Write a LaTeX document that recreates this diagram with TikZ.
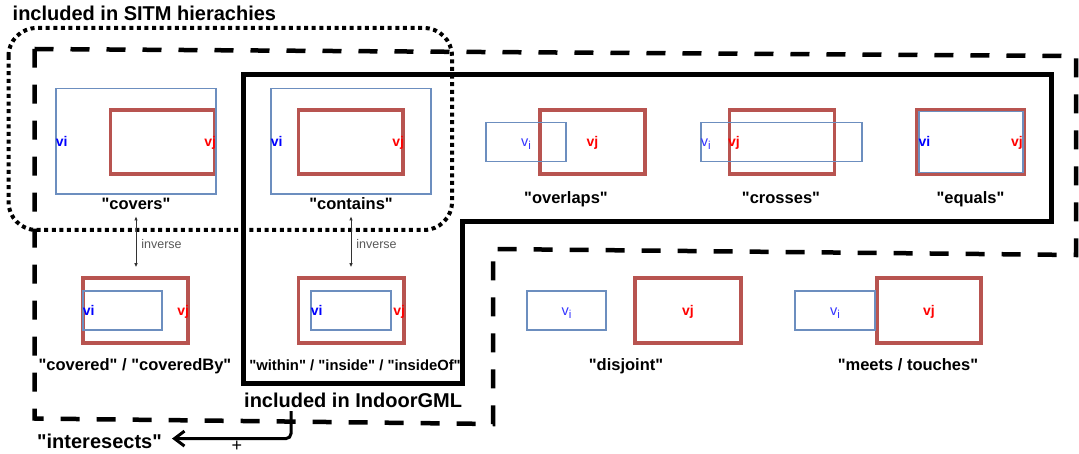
\documentclass[tikz,border=0pt]{standalone}
\usepackage{fontspec}
\setmainfont{Liberation Sans}
\usetikzlibrary{arrows.meta}
\definecolor{boxred}{HTML}{B85450}
\definecolor{boxblue}{HTML}{6C8EBF}
\definecolor{lblblue}{HTML}{0000FF}
\definecolor{subblue}{HTML}{3535FF}
\definecolor{lblred}{HTML}{FF0000}
\definecolor{invgray}{HTML}{595959}
\definecolor{arrgray}{HTML}{333333}
\newcommand{\vsub}{v\raisebox{-3pt}{\fontsize{11.5}{11.5}\selectfont i}}
\newcommand{\qt}[1]{\textquotedbl#1\textquotedbl}
\tikzset{
  redbox/.style={draw=boxred, line width=3.5pt, inner sep=0pt},
  bluebox/.style={draw=boxblue, line width=1.5pt, inner sep=0pt},
  vilbl/.style={text=lblblue, font=\fontsize{14}{14}\selectfont\bfseries, inner sep=0.5pt, text height=12pt, text depth=2pt},
  visub/.style={text=subblue, font=\fontsize{14.5}{14}\selectfont, inner sep=0.5pt, text height=12pt, text depth=2pt},
  vjlbl/.style={text=lblred, font=\fontsize{14}{14}\selectfont\bfseries, inner sep=0.5pt, text height=12pt, text depth=2pt},
  rellbl/.style={font=\fontsize{16.5}{18}\selectfont\bfseries, anchor=base, inner sep=2pt},
  grouplbl/.style={font=\fontsize{20}{22}\selectfont\bfseries, anchor=base west, inner sep=0pt},
  invlbl/.style={right, text=invgray, font=\fontsize{12.5}{14}\selectfont, inner sep=5pt},
  invarrow/.style={draw=arrgray, line width=0.8pt, shorten <=4pt, shorten >=9pt,
    {Latex[length=4pt,width=3.5pt]}-{Latex[length=4pt,width=3.5pt]}},
  intarrow/.style={line width=3pt, rounded corners=5pt, -{Straight Barb[length=10pt,width=15pt]}},
  sitmframe/.style={line width=4pt, dash pattern=on 4pt off 3.6pt, rounded corners=28pt},
  groupframe/.style={line width=4.5pt, dash pattern=on 19pt off 17pt},
  gmlframe/.style={line width=5pt}
}
\begin{document}
\begin{tikzpicture}[x=1pt,y=-1pt]
  \useasboundingbox (0,0) rectangle (1079,454);
  \fill[white] (0,0) rectangle (1079,454);

  \draw[groupframe] (34.5,49) -- (1076,56) -- (1076,255) -- (493,249) -- (493,424) -- (34.5,418.5) -- cycle;
  \draw[gmlframe] (243,75) -- (1051.5,75) -- (1051.5,221.5) -- (462,221.5) -- (462,383) -- (243,383) -- cycle;
  \draw[sitmframe] (8.5,28) rectangle (452,230);

  \foreach \nm/\cx/\cy/\w/\h in {covR/162.75/142/104.5/64, conR/350.75/142/104.5/64,
      ovR/592.5/142/105/64, crR/781.75/142/105/64, eqR/970.5/142/107/64.5,
      cbR/135.5/310.5/105/65, wiR/351.25/310.5/105.5/65, djR/688/310.5/106/65, mtR/929/310.5/104/65}
    \node[redbox, minimum width=\w pt, minimum height=\h pt] (\nm) at (\cx,\cy) {};
  \foreach \nm/\cx/\cy/\w/\h in {covB/136/141.5/160/105.5, conB/351/141.5/160/105.5,
      ovB/526/142/80/39, crB/781.5/142/161/39, eqB/970.75/142/104/61,
      cbB/122.5/310.5/79/39, wiB/351/310.5/80/39, djB/566.5/310.5/79/39, mtB/835/310.5/80/39}
    \node[bluebox, minimum width=\w pt, minimum height=\h pt] (\nm) at (\cx,\cy) {};

  \node[vilbl, anchor=west] (covVi) at (covB.west) {vi};
  \node[vjlbl, anchor=east] (covVj) at (covR.east) {vj};
  \node[vilbl, anchor=west] (conVi) at (conB.west) {vi};
  \node[vjlbl, anchor=east] (conVj) at (conR.east) {vj};
  \node[visub] (ovVi) at (ovB) {\vsub};
  \node[vjlbl] (ovVj) at (ovR) {vj};
  \node[visub, anchor=west] (crVi) at (crB.west) {\vsub};
  \node[vjlbl, anchor=west] (crVj) at (crR.west) {vj};
  \node[vilbl, anchor=west] (eqVi) at (eqB.west) {vi};
  \node[vjlbl, anchor=east] (eqVj) at (eqB.east) {vj};
  \node[vilbl, anchor=west] (cbVi) at (cbB.west) {vi};
  \node[vjlbl, anchor=east] (cbVj) at (cbR.east) {vj};
  \node[vilbl, anchor=west] (wiVi) at (wiB.west) {vi};
  \node[vjlbl, anchor=east] (wiVj) at (wiR.east) {vj};
  \node[visub] (djVi) at (djB) {\vsub};
  \node[vjlbl] (djVj) at (djR) {vj};
  \node[visub] (mtVi) at (mtB) {\vsub};
  \node[vjlbl] (mtVj) at (mtR) {vj};

  \node[rellbl] (covLbl) at (136,210) {\qt{covers}};
  \node[rellbl] (conLbl) at (351,210) {\qt{contains}};
  \node[rellbl] (ovLbl) at (566,204) {\qt{overlaps}};
  \node[rellbl] (crLbl) at (781,204) {\qt{crosses}};
  \node[rellbl] (eqLbl) at (970.5,204) {\qt{equals}};
  \node[rellbl] (cbLbl) at (135,370.5) {\qt{covered} / \qt{coveredBy}};
  \node[rellbl, font=\fontsize{14.8}{16}\selectfont\bfseries] (wiLbl) at (355,370.5) {\qt{within} / \qt{inside} / \qt{insideOf}};
  \node[rellbl] (djLbl) at (626,370.5) {\qt{disjoint}};
  \node[rellbl] (mtLbl) at (908,370.5) {\qt{meets / touches}};

  \draw[invarrow] (covLbl.south) -- (covLbl.south |- cbR.north) node[midway, invlbl] {inverse};
  \draw[invarrow] (conLbl.south) -- (conLbl.south |- wiR.north) node[midway, invlbl] {inverse};

  \node[grouplbl] (sitmLbl) at (12.5,20.7) {included in SITM hierachies};
  \node[grouplbl] (gmlLbl) at (244,407) {included in IndoorGML};
  \node[grouplbl, inner xsep=10pt, text height=19pt] (inters) at (27,448) {\qt{interesects}};
  \coordinate (isStart) at (291,411);
  \draw[intarrow] (isStart) |- (inters.east);
  \node[font=\fontsize{18}{18}\selectfont, inner sep=0pt] (plus) at (237,446) {+};
\end{tikzpicture}
\end{document}
